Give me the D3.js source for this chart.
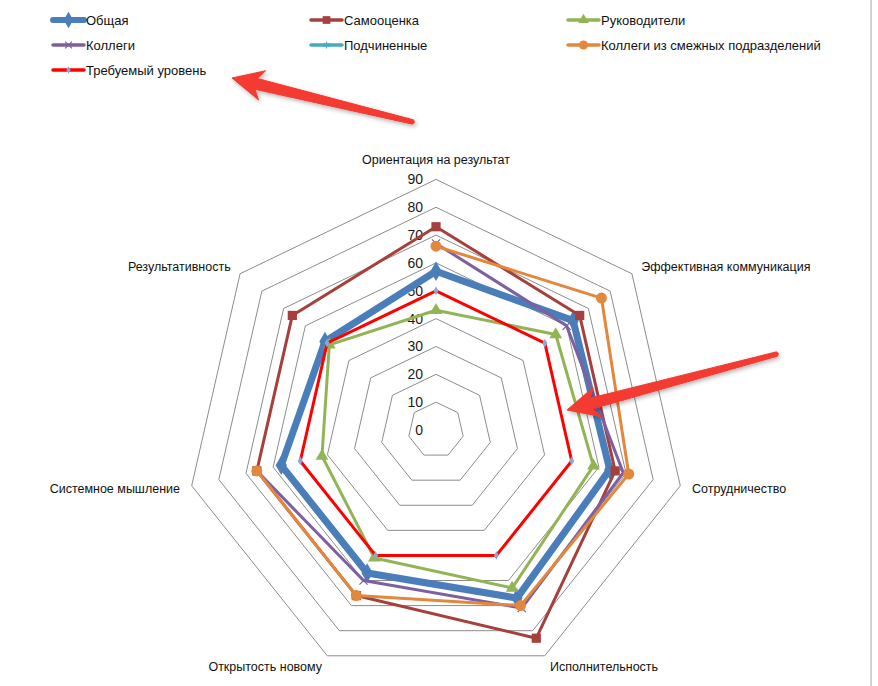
<!DOCTYPE html>
<html>
<head>
<meta charset="utf-8">
<script src="https://cdn.jsdelivr.net/npm/d3@7"></script>
<style>
  body { margin: 0; background: #fff; }
  text { font-family: "Liberation Sans", Arial, sans-serif; }
</style>
</head>
<body>
<div id="chart"></div>
<script>
// Categories (axes of the radar), clockwise from the top
const categories = [
    "Ориентация на результат",
    "Эффективная коммуникация",
    "Сотрудничество",
    "Исполнительность",
    "Открытость новому",
    "Системное мышление",
    "Результативность"
];

// Series names and values (null = no value, gap in the line)
const seriesNames = [
    "Общая",
    "Самооценка",
    "Руководители",
    "Коллеги",
    "Подчиненные",
    "Коллеги из смежных подразделений",
    "Требуемый уровень"
];
const obshaya      = [57, 63, 64, 67, 57, 57, 51];
const samoocenka   = [73, 66, 66, 83, 66, 66, 66];
const rukovoditeli = [43, 55, 58, 63, 51, 42, 49];
const kollegi      = [67, 60, 69, 71, 60, 66, null];
const podchinennye = [null, null, null, null, null, null, null];
const smezhnye     = [66, 76, 71, 70, 66, 66, null];
const trebuemyi    = [50, 50, 50, 50, 50, 50, 50];

// Tick labels of the value axis
const tickValues = [0, 10, 20, 30, 40, 50, 60, 70, 80, 90];

const seriesValues = [obshaya, samoocenka, rukovoditeli, kollegi, podchinennye, smezhnye, trebuemyi];

// Styles per series
const styles = [
    { color: "#4a7ebb", width: 7, symbol: d3.symbolDiamond, size: 110, fill: "#4a7ebb", stroke: null },
    { color: "#a5403d", width: 3, symbol: d3.symbolSquare, size: 85, fill: "#a5403d", stroke: null },
    { color: "#93b455", width: 3, symbol: d3.symbolTriangle, size: 70, fill: "#93b455", stroke: null },
    { color: "#7d60a0", width: 3, symbol: d3.symbolX, size: 45, fill: "none", stroke: "#7d60a0" },
    { color: "#46a9c4", width: 3, symbol: d3.symbolAsterisk, size: 45, fill: "none", stroke: "#46a9c4" },
    { color: "#e3873d", width: 3, symbol: d3.symbolCircle, size: 95, fill: "#e3873d", stroke: null },
    { color: "#ff0000", width: 3, symbol: d3.symbolDiamond, size: 22, fill: "#8ea6d6", stroke: null }
];

const width = 878;
const height = 686;
const cx = 436;
const cy = 430;
const maxR = 250.6;

const svg = d3.select("#chart")
    .append("svg")
    .attr("width", width)
    .attr("height", height);

const defs = svg.append("defs");
const shadow = defs.append("filter").attr("id", "shadow")
    .attr("x", "-20%").attr("y", "-50%").attr("width", "140%").attr("height", "200%");
shadow.append("feDropShadow")
    .attr("dx", 1.5).attr("dy", 2).attr("stdDeviation", 2)
    .attr("flood-color", "#000").attr("flood-opacity", 0.3);

// right border of the chart area
svg.append("line")
    .attr("x1", 871).attr("x2", 871)
    .attr("y1", 0).attr("y2", height)
    .attr("stroke", "#a6a6a6");

const r = d3.scaleLinear().domain([0, 90]).range([0, maxR]);
const angle = d3.scaleLinear().domain([0, categories.length]).range([0, 2 * Math.PI]);

const g = svg.append("g").attr("transform", `translate(${cx},${cy})`);

// Grid rings (heptagons)
const ringLine = d3.lineRadial()
    .angle((d, i) => angle(i))
    .radius(d => r(d));

tickValues.filter(v => v > 0).forEach(v => {
    g.append("path")
        .attr("d", ringLine(categories.map(() => v)) + "Z")
        .attr("fill", "none")
        .attr("stroke", "#8c8c8c")
        .attr("stroke-width", 1);
});

// Value axis tick labels
g.selectAll(".tick-label")
    .data(tickValues)
    .enter().append("text")
    .attr("class", "tick-label")
    .attr("x", -13)
    .attr("y", d => -r(d))
    .attr("dy", "0.35em")
    .attr("text-anchor", "end")
    .attr("font-size", 14)
    .attr("fill", "#1a1a1a")
    .text(d => d);

// Category labels
g.selectAll(".cat-label")
    .data(categories)
    .enter().append("text")
    .attr("class", "cat-label")
    .attr("x", (d, i) => i === 0 ? 0 : Math.sin(angle(i)) * (maxR + 12))
    .attr("y", (d, i) => i === 0 ? -(maxR + 20) : -Math.cos(angle(i)) * (maxR + 12))
    .attr("dy", "0.35em")
    .attr("text-anchor", (d, i) => i === 0 ? "middle" : (i < 4 ? "start" : "end"))
    .attr("font-size", 12.5)
    .attr("fill", "#111")
    .text(d => d);

// Series lines
const seriesLine = d3.lineRadial()
    .defined(d => d != null)
    .angle((d, i) => angle(i))
    .radius(d => r(d));

seriesValues.forEach((vals, s) => {
    const st = styles[s];
    g.append("path")
        .attr("d", seriesLine(vals.concat([vals[0]])))
        .attr("fill", "none")
        .attr("stroke", st.color)
        .attr("stroke-width", st.width)
        .attr("stroke-linejoin", "round");

    g.selectAll(null)
        .data(vals.map((v, i) => ({ v, i })).filter(d => d.v != null))
        .enter().append("path")
        .attr("d", d3.symbol().type(st.symbol).size(st.size))
        .attr("transform", d => `translate(${Math.sin(angle(d.i)) * r(d.v)},${-Math.cos(angle(d.i)) * r(d.v)})`)
        .attr("fill", st.fill)
        .attr("stroke", st.stroke)
        .attr("stroke-width", st.stroke ? 1.2 : null);
});

// Legend
const legendCols = [53, 311, 568];
const legendRows = [20, 45, 70];
const legend = svg.append("g");
seriesNames.forEach((name, s) => {
    const st = styles[s];
    const x = legendCols[s % 3];
    const y = legendRows[Math.floor(s / 3)];
    const item = legend.append("g").attr("transform", `translate(${x},${y})`);
    item.append("line")
        .attr("x1", 0).attr("x2", 31)
        .attr("stroke", st.color)
        .attr("stroke-width", s === 0 ? 6 : 3.5)
        .attr("stroke-linecap", "round");
    item.append("path")
        .attr("d", d3.symbol().type(st.symbol).size(st.size * 0.7))
        .attr("transform", "translate(15.5,0)")
        .attr("fill", st.fill)
        .attr("stroke", st.stroke)
        .attr("stroke-width", st.stroke ? 1.2 : null);
    item.append("text")
        .attr("x", 33)
        .attr("dy", "0.35em")
        .attr("font-size", 13)
        .attr("fill", "#111")
        .text(name);
});

// Annotation arrows (red, drawn over the chart)
const arrows = [
    { tip: [232, 78], tail: [413, 122] },
    { tip: [567, 410], tail: [777, 354] }
];

arrows.forEach(a => {
    const dx = a.tail[0] - a.tip[0];
    const dy = a.tail[1] - a.tip[1];
    const len = Math.sqrt(dx * dx + dy * dy);
    const ux = dx / len, uy = dy / len;
    const nx = -uy, ny = ux;
    const pt = (along, perp) => [a.tip[0] + ux * along + nx * perp, a.tip[1] + uy * along + ny * perp];
    const pts = [
        pt(0, 0),
        pt(31, 15),
        pt(25, 5.5),
        pt(len, 2.2),
        pt(len + 1.5, 0),
        pt(len, -2.2),
        pt(25, -5.5),
        pt(31, -15)
    ];
    svg.append("path")
        .attr("d", d3.line()(pts) + "Z")
        .attr("fill", "#f33b30")
        .attr("stroke", "#f33b30")
        .attr("stroke-width", 1)
        .attr("stroke-linejoin", "round")
        .attr("filter", "url(#shadow)");
});
</script>
</body>
</html>
